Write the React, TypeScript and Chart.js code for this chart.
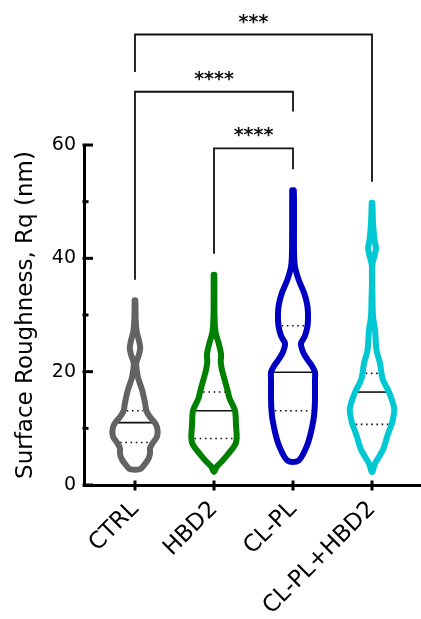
import React, { useEffect, useRef } from "react";
import { Chart, registerables } from "chart.js";

Chart.register(...registerables);

// ---- data ----
const categories = ["CTRL", "HBD2", "CL-PL", "CL-PL+HBD2"];
const groupColors = ["#636363", "#008000", "#0000C0", "#00C8D2"];

// Violin density profiles: values (nm) and half-widths (category units)
const ctrlValues = [2.8, 3.5, 4.5, 5.5, 6.5, 7.5, 8.5, 9.7, 10.8, 12, 13, 14.5, 16.8, 19, 21.5, 23, 24.2, 25.5, 27, 29, 32.6];
const ctrlWidths = [0.063, 0.114, 0.165, 0.19, 0.19, 0.228, 0.278, 0.285, 0.26, 0.19, 0.146, 0.127, 0.089, 0.038, 0.016, 0.05, 0.066, 0.05, 0.022, 0.009, 0.004];

const hbd2Values = [2.3, 3.2, 4.1, 5.0, 5.9, 7.1, 8.2, 10.6, 13.1, 15.3, 16.4, 18.8, 20.5, 21.8, 23.0, 24.7, 26.0, 27.1, 30, 37.1];
const hbd2Widths = [0, 0.032, 0.095, 0.152, 0.203, 0.266, 0.287, 0.278, 0.266, 0.196, 0.177, 0.13, 0.098, 0.085, 0.09, 0.065, 0.038, 0.018, 0.006, 0.004];

const clplValues = [4.3, 6.8, 9, 11.5, 13.1, 15, 18.5, 19.9, 21, 22.1, 23.5, 25, 26.2, 28.1, 30.3, 32, 33.8, 36.2, 38.5, 41, 52];
const clplWidths = [0.07, 0.173, 0.222, 0.259, 0.272, 0.278, 0.278, 0.278, 0.24, 0.184, 0.127, 0.101, 0.148, 0.184, 0.19, 0.177, 0.143, 0.072, 0.025, 0.013, 0.01];

const comboValues = [2.3, 3.8, 5, 6.2, 7.3, 8.5, 9.5, 10.9, 13.2, 14.4, 16.4, 18.5, 19.7, 21.5, 23.8, 27.4, 29.7, 33, 38.5, 40.5, 41.8, 43.2, 46.2, 49.8];
const comboWidths = [0, 0.038, 0.089, 0.139, 0.165, 0.19, 0.215, 0.253, 0.282, 0.266, 0.215, 0.139, 0.12, 0.101, 0.057, 0.038, 0.013, 0.006, 0, 0.032, 0.05, 0.032, 0.013, 0.004];

const medians = [11.0, 13.1, 19.9, 16.4];
const lowerQuartiles = [7.5, 8.2, 13.1, 10.7];
const upperQuartiles = [13.1, 16.4, 28.1, 19.7];

const yMajorTicks = [0, 20, 40, 60];
const yMinorTicks = [10, 30, 50];

// significance brackets
const bracketFrom = [0, 0, 1];
const bracketTo = [3, 2, 2];
const bracketLevel = [79.5, 69.4, 59.4];
const bracketFromEnd = [72.9, 36.2, 40.8];
const bracketToEnd = [53.5, 65.9, 55.7];
const bracketLabels = ["***", "****", "****"];

const FONT = "'DejaVu Sans'";

function interp(vals: number[], ws: number[], v: number) {
  if (v <= vals[0]) return ws[0];
  for (let k = 1; k < vals.length; k++) {
    if (v <= vals[k]) {
      const t = (v - vals[k - 1]) / (vals[k] - vals[k - 1]);
      return ws[k - 1] + t * (ws[k] - ws[k - 1]);
    }
  }
  return ws[ws.length - 1];
}

const axisTicksPlugin = {
  id: "axisTicks",
  afterDraw(chart: any) {
    const { ctx, chartArea, scales } = chart;
    ctx.save();
    ctx.strokeStyle = "#000";
    ctx.lineWidth = 3;
    ctx.lineCap = "butt";
    yMajorTicks.forEach((v) => {
      const y = scales.y.getPixelForValue(v);
      ctx.beginPath();
      ctx.moveTo(chartArea.left - 1.5, y);
      ctx.lineTo(chartArea.left + 9, y);
      ctx.stroke();
    });
    yMinorTicks.forEach((v) => {
      const y = scales.y.getPixelForValue(v);
      ctx.beginPath();
      ctx.moveTo(chartArea.left - 1.5, y);
      ctx.lineTo(chartArea.left + 4.5, y);
      ctx.stroke();
    });
    categories.forEach((_, i) => {
      const x = scales.x.getPixelForValue(i);
      ctx.beginPath();
      ctx.moveTo(x, chartArea.bottom - 4.5);
      ctx.lineTo(x, chartArea.bottom + 5.5);
      ctx.stroke();
    });
    ctx.restore();
  },
};

const bracketPlugin = {
  id: "brackets",
  afterDraw(chart: any) {
    const { ctx, scales } = chart;
    ctx.save();
    ctx.strokeStyle = "#111";
    ctx.lineWidth = 1.8;
    ctx.fillStyle = "#111";
    ctx.font = `bold 19px ${FONT}`;
    ctx.textAlign = "center";
    ctx.textBaseline = "alphabetic";
    bracketLabels.forEach((label, i) => {
      const x1 = scales.x.getPixelForValue(bracketFrom[i]);
      const x2 = scales.x.getPixelForValue(bracketTo[i]);
      const y = scales.y.getPixelForValue(bracketLevel[i]);
      const y1 = scales.y.getPixelForValue(bracketFromEnd[i]);
      const y2 = scales.y.getPixelForValue(bracketToEnd[i]);
      ctx.beginPath();
      ctx.moveTo(x1, y1);
      ctx.lineTo(x1, y);
      ctx.lineTo(x2, y);
      ctx.lineTo(x2, y2);
      ctx.stroke();
      ctx.fillText(label, (x1 + x2) / 2, y - 7);
    });
    ctx.restore();
  },
};

export default function App() {
  const ref = useRef<HTMLCanvasElement>(null);
  useEffect(() => {
    const canvas = ref.current;
    if (!canvas) return;
    const profiles: [number[], number[]][] = [
      [ctrlValues, ctrlWidths],
      [hbd2Values, hbd2Widths],
      [clplValues, clplWidths],
      [comboValues, comboWidths],
    ];
    const STROKE_HALF = 0.032;
    const datasets: any[] = [];
    profiles.forEach(([vals, ws], i) => {
      const addLine = (v: number, dotted: boolean) => {
        const w = Math.max(interp(vals, ws, v) - STROKE_HALF - (dotted ? 0.008 : 0), 0.015);
        datasets.push({
          data: [
            { x: i - w, y: v },
            { x: i + w, y: v },
          ],
          borderColor: "#111",
          borderWidth: 1.6,
          borderDash: dotted ? [1.6, 3.6] : [],
          borderCapStyle: "butt",
          pointRadius: 0,
          tension: 0,
          fill: false,
          order: 2,
        });
      };
      addLine(medians[i], false);
      addLine(lowerQuartiles[i], true);
      addLine(upperQuartiles[i], true);

      const pts: { x: number; y: number }[] = [];
      for (let k = vals.length - 1; k >= 0; k--) pts.push({ x: i - ws[k], y: vals[k] });
      for (let k = 0; k < vals.length; k++) {
        if (k === 0 && ws[0] === 0) continue;
        pts.push({ x: i + ws[k], y: vals[k] });
      }
      pts.push({ ...pts[0] });
      datasets.push({
        data: pts,
        borderColor: groupColors[i],
        borderWidth: 6,
        pointRadius: 0,
        tension: 0.3,
        fill: false,
        borderJoinStyle: "round",
        borderCapStyle: "round",
        order: 1,
      });
    });

    const chart = new Chart(canvas, {
      type: "line",
      data: { datasets },
      options: {
        animation: false,
        responsive: false,
        devicePixelRatio: 1,
        events: [],
        layout: { padding: { top: 145, right: 0, bottom: 0, left: 0 } },
        plugins: {
          legend: { display: false },
          tooltip: { enabled: false },
        },
        scales: {
          x: {
            type: "linear",
            min: -0.6455,
            max: 3.62,
            afterBuildTicks: (scale: any) => {
              scale.ticks = categories.map((_, i) => ({ value: i }));
            },
            afterFit: (scale: any) => {
              scale.height = 134;
            },
            grid: { display: false, drawTicks: false },
            border: { display: true, width: 3, color: "#000" },
            ticks: {
              autoSkip: false,
              minRotation: 45,
              maxRotation: 45,
              padding: 11,
              color: "#000",
              font: { family: FONT, size: 23 },
              callback: (value: any) => categories[value as number] ?? "",
            },
          },
          y: {
            type: "linear",
            min: 0,
            max: 60,
            afterBuildTicks: (scale: any) => {
              scale.ticks = yMajorTicks.map((v) => ({ value: v }));
            },
            afterFit: (scale: any) => {
              scale.width = 84;
            },
            grid: { display: false, drawTicks: false },
            border: { display: true, width: 3, color: "#000" },
            ticks: {
              padding: 8,
              color: "#000",
              font: { family: FONT, size: 19 },
            },
            title: {
              display: true,
              text: "Surface Roughness, Rq (nm)",
              color: "#000",
              font: { family: FONT, size: 23 },
              padding: { top: 12, bottom: 0 },
            },
          },
        },
      },
      plugins: [axisTicksPlugin, bracketPlugin],
    });
    return () => chart.destroy();
  }, []);

  return (
    <div style={{ position: "fixed", left: 0, top: 0, width: 421, height: 619, background: "#fff" }}>
      <canvas ref={ref} width={421} height={619} style={{ width: 421, height: 619, display: "block" }} />
    </div>
  );
}
